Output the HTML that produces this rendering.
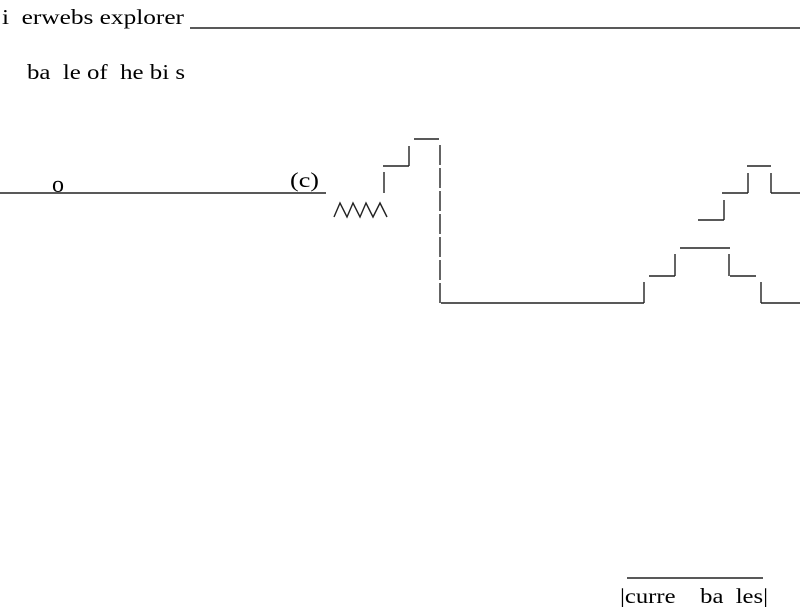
<!DOCTYPE html>
<html><head><meta charset="utf-8"><style>
html,body{margin:0;padding:0;background:#fff;}
svg{display:block;}
text{font-family:"Liberation Serif","Times New Roman",serif;font-size:21px;fill:#000;}
text.o{font-size:24px;}
</style></head><body>
<svg width="800" height="607" viewBox="0 0 800 607" xmlns="http://www.w3.org/2000/svg">
<g stroke="#222" stroke-width="1.4" fill="none">
<line x1="190" y1="28" x2="800" y2="28"/>
<line x1="0" y1="193" x2="326" y2="193"/>
<polyline points="334,217 340,203 347,217 353,203 360,217 366,203 373,217 380,203 387,217"/>
<line x1="384" y1="172" x2="384" y2="193"/>
<line x1="383" y1="166" x2="409" y2="166"/>
<line x1="409" y1="146" x2="409" y2="166"/>
<line x1="414" y1="139" x2="439" y2="139"/>
<line x1="440" y1="145" x2="440" y2="303" stroke-dasharray="20,3"/>
<line x1="441" y1="303" x2="644" y2="303"/>
<line x1="644" y1="282" x2="644" y2="303"/>
<line x1="649" y1="276" x2="675" y2="276"/>
<line x1="675" y1="254" x2="675" y2="276"/>
<line x1="680" y1="248" x2="730" y2="248"/>
<line x1="729" y1="254" x2="729" y2="276"/>
<line x1="730" y1="276" x2="756" y2="276"/>
<line x1="761" y1="282" x2="761" y2="303"/>
<line x1="761" y1="303" x2="800" y2="303"/>
<line x1="747" y1="166" x2="771" y2="166"/>
<line x1="748" y1="173" x2="748" y2="193"/>
<line x1="722" y1="193" x2="748" y2="193"/>
<line x1="771" y1="173" x2="771" y2="193"/>
<line x1="771" y1="193" x2="800" y2="193"/>
<line x1="724" y1="200" x2="724" y2="220"/>
<line x1="698" y1="220" x2="724" y2="220"/>
<line x1="627" y1="578" x2="763" y2="578"/>
</g>
<text x="2" y="24" textLength="182" lengthAdjust="spacingAndGlyphs" xml:space="preserve">i  erwebs explorer</text>
<text x="27" y="79" textLength="158" lengthAdjust="spacingAndGlyphs" xml:space="preserve">ba  le of  he bi s</text>
<text class="o" x="52" y="192" textLength="12" lengthAdjust="spacingAndGlyphs">o</text>
<text x="290" y="187" textLength="29" lengthAdjust="spacingAndGlyphs">(c)</text>
<text x="620" y="603" textLength="148" lengthAdjust="spacingAndGlyphs" xml:space="preserve">|curre    ba  les|</text>
</svg>
</body></html>
